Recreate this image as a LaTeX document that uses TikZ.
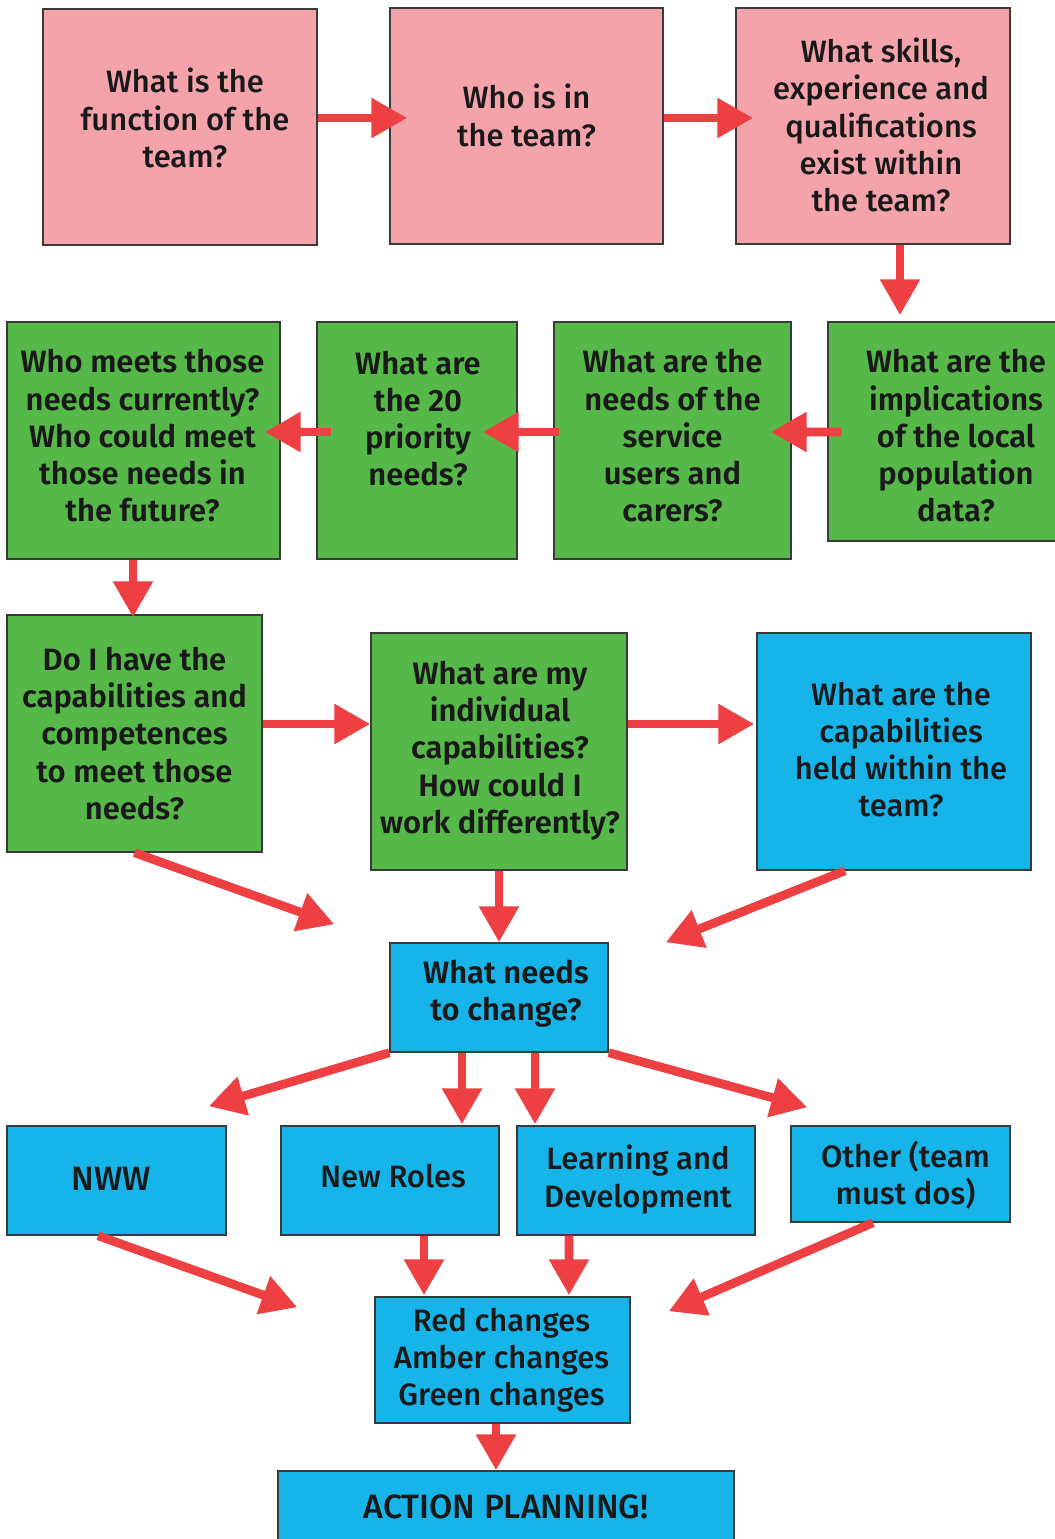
\documentclass[tikz,border=0pt]{standalone}
\usepackage{fontspec}
\setmainfont{Fira Sans}[UprightFont={* Medium}, BoldFont={* SemiBold}]
\usetikzlibrary{arrows.meta}
\usetikzlibrary{calc}

\definecolor{pinkfill}{HTML}{F5A3AA}
\definecolor{greenfill}{HTML}{56B848}
\definecolor{bluefill}{HTML}{16B4E9}
\definecolor{arrowred}{HTML}{EE3F43}
\definecolor{edgegray}{HTML}{3A3A3A}

\tikzset{
  boxsize/.style 2 args={minimum width=#1*0.025cm, minimum height=#2*0.025cm},
  box/.style={draw=edgegray, line width=0.035cm, inner sep=0pt},
  pinkbox/.style={box, fill=pinkfill},
  greenbox/.style={box, fill=greenfill},
  bluebox/.style={box, fill=bluefill},
  boxtext/.style={inner sep=0pt, align=center, text=black!90,
    font=\fontsize{22}{26.5}\selectfont},
  boldtext/.style={boxtext, font=\fontsize{22}{26.5}\selectfont\bfseries},
  captext/.style={boxtext, font=\fontsize{24}{28}\selectfont},
  arr/.style={draw=arrowred, line width=0.22cm,
    -{Triangle[length=0.9cm, width=0.95cm]}}
}

\begin{document}
\begin{tikzpicture}[x=0.025cm, y=-0.025cm]
\useasboundingbox (0,0) rectangle (1054,1539);

% top row
\node[pinkbox, boxsize={274}{236}] (p1) at (180,127) {};
\node[pinkbox, boxsize={273}{236}] (p2) at (526.5,126) {};
\node[pinkbox, boxsize={274}{236}] (p3) at (873,126) {};
\node[boxtext] (p1text) at ($(p1)+(5,-9)$) {What is the\\function of the\\team?};
\node[boxtext] (p2text) at ($(p2)+(0,-10.5)$) {Who is in\\the team?};
\node[boxtext] (p3text) at ($(p3)+(8,-1)$) {What skills,\\experience and\\qualifications\\exist within\\the team?};

% second row
\node[greenbox, boxsize={256}{219}] (g4) at (956,431.5) {};
\node[greenbox, boxsize={237}{237}] (g3) at (672.5,440.5) {};
\node[greenbox, boxsize={200}{237}] (g2) at (417,440.5) {};
\node[greenbox, boxsize={273}{237}] (g1) at (143.5,440.5) {};
\node[boldtext] (g4text) at ($(g4)+(0,4.5)$) {What are the\\implications\\of the local\\population\\data?};
\node[boldtext] (g3text) at ($(g3)+(0,-4.5)$) {What are the\\needs of the\\service\\users and\\carers?};
\node[boldtext] (g2text) at ($(g2)+(1,-22)$) {What are\\the 20\\priority\\needs?};
\node[boldtext] (g1text) at ($(g1)+(-1,-4.5)$) {Who meets those\\needs currently?\\Who could meet\\those needs in\\the future?};

% third row
\node[greenbox, boxsize={255}{237}] (g5) at (134.5,733.5) {};
\node[greenbox, boxsize={256}{237}] (g6) at (499,751.5) {};
\node[bluebox, boxsize={274}{237}] (b7) at (894,751.5) {};
\node[boldtext] (g5text) at (g5) {Do I have the\\capabilities and\\competences\\to meet those\\needs?};
\node[boldtext] (g6text) at ($(g6)+(1,-1)$) {What are my\\individual\\capabilities?\\How could I\\work differently?};
\node[boxtext] (b7text) at ($(b7)+(7,-2)$) {What are the\\capabilities\\held within the\\team?};

% what needs to change
\node[bluebox, boxsize={218}{109}] (b8) at (499,997.5) {};
\node[boldtext] (b8text) at ($(b8)+(7,-4)$) {What needs\\to change?};

% kinds of change
\node[bluebox, boxsize={219}{109}] (nww) at (116.5,1180.5) {};
\node[bluebox, boxsize={218}{109}] (nr) at (390,1180.5) {};
\node[bluebox, boxsize={238}{109}] (ld) at (636,1180.5) {};
\node[bluebox, boxsize={219}{96}] (ot) at (900.5,1174) {};
\node[captext] (nwwtext) at ($(nww)+(-5,-2)$) {NWW};
\node[boxtext] (nrtext) at ($(nr)+(3,-4)$) {New Roles};
\node[boxtext] (ldtext) at ($(ld)+(2,-1)$) {Learning and\\Development};
\node[boxtext] (ottext) at ($(ot)+(5,1.5)$) {Other (team\\must dos)};

% outcome
\node[bluebox, boxsize={255}{126}] (rc) at (502.5,1360) {};
\node[bluebox, boxsize={456}{72}] (ap) at (506,1507) {};
\node[boxtext] (rctext) at ($(rc)+(-1,0)$) {Red changes\\Amber changes\\Green changes};
\node[captext] (aptext) at (ap) {ACTION PLANNING!};

% arrows along the top
\draw[arr] ($(p1.east)+(0,-9)$) -- ($(p2.west)+(18,-8)$);
\draw[arr] ($(p2.east)+(0,-8)$) -- ($(p3.west)+(18,-8)$);
\draw[arr] ($(p3.south)+(27,0)$) -- ($(g4.north)+(-56,-6)$);

% arrows along the second row
\draw[arr] ($(g4.west)+(14,0.5)$) -- ($(g3.east)+(-21,-8.5)$);
\draw[arr] ($(g3.west)+(6,-8.5)$) -- ($(g2.east)+(-35,-8.5)$);
\draw[arr] ($(g2.west)+(15,-8.5)$) -- ($(g1.east)+(-16,-8.5)$);
\draw[arr] ($(g1.south)+(-10.5,0)$) -- ($(g5.north)+(-1.5,3)$);

% arrows along the third row
\draw[arr] ($(g5.east)+(0,-9.5)$) -- ($(g6.west)+(0,-27.5)$);
\draw[arr] ($(g6.east)+(0,-27.5)$) -- ($(b7.west)+(-2,-27.5)$);

% into what needs to change
\draw[arr] (g5.south) -- ($(b8.north west)+(-55,-18)$);
\draw[arr] (g6.south) -- (b8.north);
\draw[arr] ($(b7.south)+(-49,0)$) -- ($(b8.north east)+(57,0)$);

% out of what needs to change
\draw[arr] (b8.south west) -- ($(nww.north east)+(-18,-19)$);
\draw[arr] ($(b8.south)+(-37,0)$) -- ($(nr.north)+(72,-1)$);
\draw[arr] ($(b8.south)+(36,0)$) -- ($(ld.north)+(-101,-1)$);
\draw[arr] (b8.south east) -- ($(ot.north west)+(17,-18)$);

% into the changes
\draw[arr] ($(nww.south)+(-18.5,0)$) -- ($(rc.north west)+(-77,11)$);
\draw[arr] ($(nr.south)+(34,0)$) -- ($(rc.north)+(-78.5,-1)$);
\draw[arr] ($(ld.south)+(-67,0)$) -- ($(rc.north)+(66.5,-1)$);
\draw[arr] ($(ot.south)+(-27.5,0)$) -- ($(rc.north east)+(38,15)$);
\draw[arr] ($(rc.south)+(-6.5,0)$) -- ($(ap.north)+(-10,0)$);

\end{tikzpicture}
\end{document}
